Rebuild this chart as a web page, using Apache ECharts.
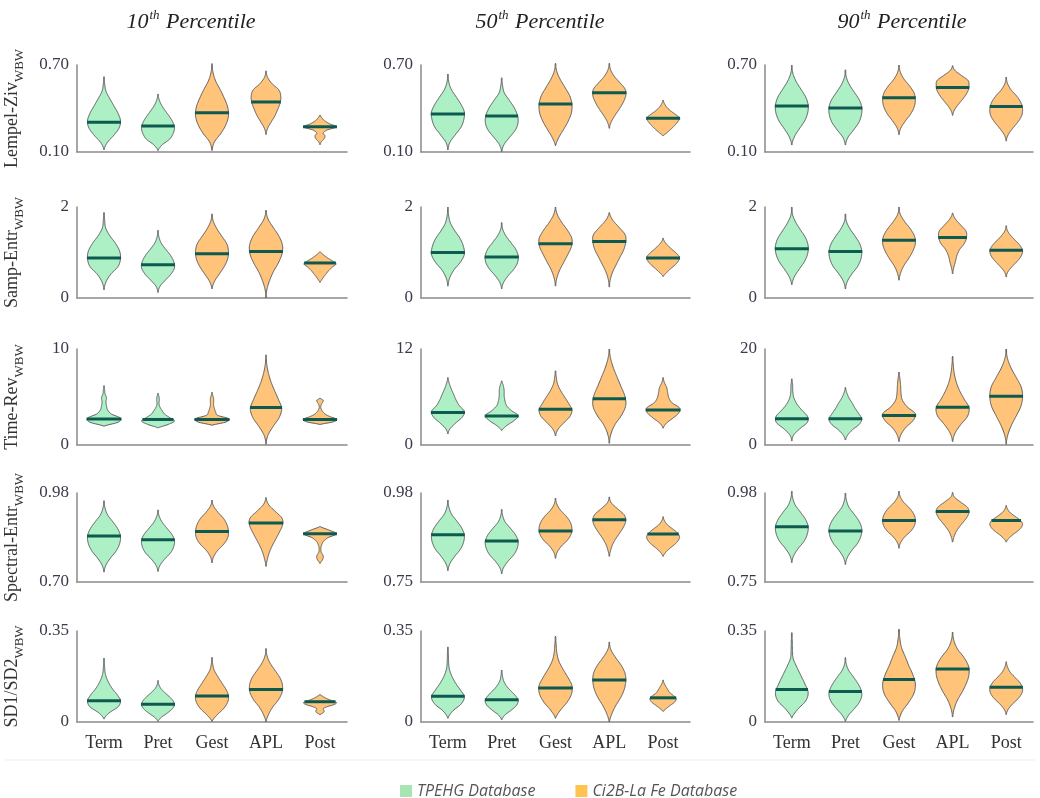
<!DOCTYPE html>
<html><head><meta charset="utf-8">
<script src="https://cdn.jsdelivr.net/npm/echarts@6/dist/echarts.min.js"></script>
<style>html,body{margin:0;padding:0;background:#fff}#c{width:1040px;height:798px}</style>
</head><body><div id="c"></div>
<script>
const categories = ['Term', 'Pret', 'Gest', 'APL', 'Post'];
const metrics = ['Lempel-Ziv', 'Samp-Entr', 'Time-Rev', 'Spectral-Entr', 'SD1/SD2'];
const percentiles = ['10', '50', '90'];
const legendNames = ['TPEHG Database', 'Ci2B-La Fe Database'];
const yMin = [[0.10, 0.10, 0.10], [0, 0, 0], [0, 0, 0], [0.70, 0.75, 0.75], [0, 0, 0]];
const yMax = [[0.70, 0.70, 0.70], [2, 2, 2], [10, 12, 20], [0.98, 0.98, 0.98], [0.35, 0.35, 0.35]];

// each violin: [low tip, high tip, median, relative density sampled evenly between the tips]
const lempelZiv10 = [
  [0.115, 0.62, 0.305, [0.2, 0.6, 0.92, 1.0, 0.85, 0.6, 0.35, 0.12, 0.04]],
  [0.11, 0.50, 0.28, [0.25, 0.7, 0.92, 1.0, 0.9, 0.7, 0.45, 0.22, 0.07]],
  [0.11, 0.71, 0.37, [0.15, 0.55, 0.85, 1.0, 0.95, 0.75, 0.5, 0.22, 0.06]],
  [0.22, 0.66, 0.445, [0.1, 0.32, 0.55, 0.72, 0.86, 0.9, 0.78, 0.36, 0.09]],
  [0.15, 0.355, 0.275, [0.08, 0.25, 0.3, 0.2, 0.45, 1.0, 0.6, 0.3, 0.12]]
];
const lempelZiv50 = [
  [0.114, 0.638, 0.362, [0.12, 0.45, 0.8, 0.97, 1.0, 0.8, 0.5, 0.2, 0.05]],
  [0.102, 0.612, 0.348, [0.15, 0.5, 0.85, 1.0, 0.95, 0.75, 0.45, 0.15, 0.05]],
  [0.143, 0.712, 0.431, [0.2, 0.5, 0.78, 0.97, 1.0, 0.88, 0.6, 0.3, 0.08]],
  [0.263, 0.712, 0.509, [0.12, 0.35, 0.62, 0.85, 1.0, 0.97, 0.65, 0.3, 0.08]],
  [0.21, 0.459, 0.332, [0.25, 0.5, 0.72, 0.9, 1.0, 0.75, 0.45, 0.22, 0.08]]
];
const lempelZiv90 = [
  [0.148, 0.70, 0.418, [0.15, 0.45, 0.78, 0.97, 1.0, 0.85, 0.55, 0.25, 0.06]],
  [0.148, 0.667, 0.403, [0.15, 0.5, 0.82, 0.98, 1.0, 0.85, 0.55, 0.25, 0.06]],
  [0.219, 0.70, 0.475, [0.12, 0.4, 0.72, 0.93, 1.0, 0.92, 0.65, 0.3, 0.08]],
  [0.352, 0.696, 0.544, [0.1, 0.3, 0.55, 0.78, 0.95, 1.0, 0.95, 0.55, 0.15]],
  [0.175, 0.617, 0.413, [0.12, 0.4, 0.72, 0.95, 1.0, 0.9, 0.65, 0.3, 0.08]]
];
const sampEntr10 = [
  [0.18, 1.88, 0.88, [0.12, 0.4, 0.85, 1.0, 0.95, 0.7, 0.35, 0.1, 0.04]],
  [0.12, 1.49, 0.73, [0.12, 0.45, 0.8, 1.0, 0.95, 0.75, 0.45, 0.18, 0.05]],
  [0.20, 1.85, 0.97, [0.15, 0.45, 0.75, 0.95, 1.0, 0.9, 0.6, 0.3, 0.08]],
  [0.0, 1.93, 1.02, [0.06, 0.22, 0.45, 0.75, 0.97, 1.0, 0.8, 0.45, 0.12]],
  [0.34, 1.02, 0.77, [0.12, 0.25, 0.4, 0.55, 0.75, 0.97, 0.75, 0.45, 0.2]]
];
const sampEntr50 = [
  [0.26, 2.0, 1.0, [0.1, 0.35, 0.75, 1.0, 0.95, 0.75, 0.42, 0.15, 0.04]],
  [0.20, 1.66, 0.90, [0.12, 0.4, 0.75, 0.97, 1.0, 0.85, 0.55, 0.25, 0.06]],
  [0.26, 2.0, 1.19, [0.08, 0.25, 0.5, 0.75, 0.97, 1.0, 0.75, 0.4, 0.12]],
  [0.24, 1.88, 1.24, [0.06, 0.2, 0.42, 0.65, 0.88, 1.0, 0.97, 0.6, 0.2]],
  [0.47, 1.32, 0.88, [0.2, 0.45, 0.72, 0.92, 1.0, 0.82, 0.55, 0.3, 0.1]]
];
const sampEntr90 = [
  [0.29, 2.0, 1.08, [0.15, 0.45, 0.78, 0.97, 1.0, 0.85, 0.55, 0.25, 0.05]],
  [0.20, 1.85, 1.02, [0.12, 0.4, 0.75, 0.95, 1.0, 0.88, 0.6, 0.28, 0.06]],
  [0.39, 2.0, 1.27, [0.1, 0.3, 0.6, 0.85, 1.0, 0.95, 0.7, 0.35, 0.08]],
  [0.53, 1.87, 1.33, [0.07, 0.17, 0.26, 0.43, 0.72, 0.85, 0.82, 0.5, 0.17]],
  [0.46, 1.59, 1.05, [0.1, 0.35, 0.65, 0.9, 1.0, 0.88, 0.6, 0.3, 0.08]]
];
const timeRev10 = [
  [1.95, 6.2, 2.72, [0.85, 1.0, 0.45, 0.22, 0.15, 0.12, 0.15, 0.06, 0.04]],
  [1.77, 5.4, 2.66, [0.6, 1.0, 0.7, 0.4, 0.25, 0.12, 0.06, 0.08, 0.06]],
  [2.05, 5.5, 2.66, [0.85, 1.0, 0.35, 0.22, 0.15, 0.1, 0.1, 0.1, 0.05]],
  [0.06, 9.4, 3.9, [0.11, 0.43, 0.8, 0.95, 0.76, 0.52, 0.3, 0.14, 0.04]],
  [2.13, 4.9, 2.66, [0.8, 1.0, 0.6, 0.3, 0.15, 0.06, 0.05, 0.12, 0.2]]
];
const timeRev50 = [
  [1.38, 8.44, 4.05, [0.15, 0.5, 0.88, 1.0, 0.7, 0.5, 0.35, 0.2, 0.08]],
  [1.8, 8.03, 3.64, [0.3, 0.75, 1.0, 0.6, 0.3, 0.2, 0.15, 0.15, 0.1]],
  [1.13, 9.28, 4.48, [0.15, 0.5, 0.88, 1.0, 0.8, 0.55, 0.3, 0.12, 0.05]],
  [0.2, 12.0, 5.77, [0.1, 0.35, 0.75, 1.0, 0.95, 0.72, 0.48, 0.25, 0.08]],
  [2.09, 8.44, 4.39, [0.2, 0.6, 0.95, 1.0, 0.55, 0.35, 0.28, 0.22, 0.08]]
];
const timeRev90 = [
  [0.82, 13.8, 5.48, [0.12, 0.5, 0.95, 0.95, 0.6, 0.3, 0.12, 0.06, 0.05]],
  [1.03, 12.0, 5.48, [0.15, 0.45, 0.85, 1.0, 0.82, 0.6, 0.42, 0.22, 0.08]],
  [0.7, 15.2, 6.16, [0.12, 0.4, 0.85, 1.0, 0.5, 0.2, 0.12, 0.1, 0.06]],
  [0.7, 18.5, 7.88, [0.15, 0.5, 0.92, 1.0, 0.7, 0.42, 0.22, 0.1, 0.04]],
  [0.14, 20.0, 10.14, [0.1, 0.32, 0.62, 0.9, 1.0, 0.92, 0.62, 0.3, 0.08]]
];
const spectralEntr10 = [
  [0.731, 0.956, 0.845, [0.12, 0.4, 0.75, 0.95, 1.0, 0.85, 0.55, 0.22, 0.06]],
  [0.733, 0.927, 0.833, [0.12, 0.4, 0.75, 0.95, 1.0, 0.85, 0.55, 0.25, 0.07]],
  [0.76, 0.958, 0.859, [0.1, 0.35, 0.72, 0.95, 1.0, 0.92, 0.72, 0.38, 0.1]],
  [0.749, 0.966, 0.886, [0.08, 0.2, 0.38, 0.6, 0.82, 1.0, 0.97, 0.55, 0.15]],
  [0.758, 0.875, 0.852, [0.15, 0.2, 0.08, 0.05, 0.1, 0.22, 0.5, 1.0, 0.55]]
];
const spectralEntr50 = [
  [0.779, 0.962, 0.872, [0.12, 0.4, 0.75, 0.95, 1.0, 0.85, 0.55, 0.22, 0.06]],
  [0.771, 0.938, 0.856, [0.12, 0.4, 0.75, 0.95, 1.0, 0.85, 0.55, 0.22, 0.06]],
  [0.811, 0.967, 0.882, [0.1, 0.35, 0.72, 0.95, 1.0, 0.9, 0.65, 0.3, 0.08]],
  [0.816, 0.97, 0.911, [0.08, 0.2, 0.4, 0.65, 0.88, 1.0, 0.9, 0.5, 0.12]],
  [0.816, 0.919, 0.874, [0.15, 0.4, 0.7, 0.92, 1.0, 0.85, 0.55, 0.25, 0.08]]
];
const spectralEntr90 = [
  [0.80, 0.985, 0.893, [0.12, 0.4, 0.75, 0.95, 1.0, 0.85, 0.55, 0.22, 0.06]],
  [0.795, 0.98, 0.882, [0.12, 0.4, 0.75, 0.95, 1.0, 0.85, 0.55, 0.22, 0.06]],
  [0.837, 0.985, 0.909, [0.1, 0.35, 0.72, 0.95, 1.0, 0.9, 0.65, 0.3, 0.08]],
  [0.853, 0.982, 0.932, [0.08, 0.2, 0.4, 0.65, 0.88, 1.0, 0.9, 0.5, 0.12]],
  [0.853, 0.948, 0.909, [0.15, 0.4, 0.7, 0.92, 1.0, 0.85, 0.55, 0.25, 0.08]]
];
const sd1sd2_10 = [
  [0.011, 0.246, 0.082, [0.3, 0.85, 1.0, 0.8, 0.5, 0.28, 0.12, 0.05, 0.03]],
  [0.002, 0.16, 0.068, [0.2, 0.55, 0.85, 1.0, 0.92, 0.7, 0.42, 0.18, 0.05]],
  [0.002, 0.249, 0.10, [0.3, 0.7, 0.95, 1.0, 0.85, 0.6, 0.35, 0.13, 0.04]],
  [0.0, 0.283, 0.125, [0.15, 0.4, 0.75, 0.97, 1.0, 0.85, 0.55, 0.25, 0.06]],
  [0.028, 0.106, 0.078, [0.2, 0.25, 0.2, 0.45, 0.85, 1.0, 0.7, 0.4, 0.18]]
];
const sd1sd2_50 = [
  [0.014, 0.289, 0.099, [0.28, 0.8, 1.0, 0.75, 0.45, 0.22, 0.08, 0.04, 0.03]],
  [0.008, 0.20, 0.086, [0.2, 0.6, 0.92, 1.0, 0.8, 0.5, 0.25, 0.1, 0.04]],
  [0.014, 0.33, 0.131, [0.3, 0.72, 0.98, 1.0, 0.75, 0.45, 0.2, 0.08, 0.04]],
  [0.0, 0.308, 0.162, [0.15, 0.38, 0.68, 0.9, 1.0, 0.97, 0.75, 0.4, 0.1]],
  [0.04, 0.162, 0.093, [0.2, 0.45, 0.7, 0.8, 0.65, 0.4, 0.28, 0.16, 0.06]]
];
const sd1sd2_90 = [
  [0.015, 0.344, 0.125, [0.35, 0.85, 1.0, 0.8, 0.55, 0.3, 0.08, 0.04, 0.03]],
  [0.002, 0.248, 0.117, [0.2, 0.55, 0.85, 1.0, 0.95, 0.75, 0.48, 0.2, 0.05]],
  [0.006, 0.357, 0.163, [0.2, 0.6, 0.92, 1.0, 0.85, 0.6, 0.38, 0.15, 0.05]],
  [0.019, 0.346, 0.204, [0.1, 0.3, 0.6, 0.85, 1.0, 0.97, 0.7, 0.3, 0.08]],
  [0.028, 0.232, 0.134, [0.12, 0.38, 0.72, 0.95, 1.0, 0.85, 0.55, 0.25, 0.08]]
];

const panels = [
  [lempelZiv10, lempelZiv50, lempelZiv90],
  [sampEntr10, sampEntr50, sampEntr90],
  [timeRev10, timeRev50, timeRev90],
  [spectralEntr10, spectralEntr50, spectralEntr90],
  [sd1sd2_10, sd1sd2_50, sd1sd2_90]
];

// ---- styling / layout ----
const GREEN = '#aef0c6', ORANGE = '#ffc37a';
const LEG_GREEN = '#a8e4b4', LEG_ORANGE = '#ffc44f';
const colLeft = [77, 421, 765], colWidth = [270, 269, 268];
const rowTop = [65, 207, 349, 493, 631], rowHeight = [87, 91, 96, 89, 91];
const titleX = [191, 540, 902];
const serif = 'Liberation Serif';
const axisColor = '#8a8a8a';

function makeRender(panel) {
  return function (params, api) {
    const i = params.dataIndex;
    const d = panel[i];
    const lo = d[0], hi = d[1], med = d[2], prof = d[3];
    const band = api.size([1, 0])[0];
    const maxHW = band * 0.305;
    const n = prof.length;
    const ys = [], ws = [];
    const cx = api.coord([i, lo])[0];
    for (let k = 0; k <= n + 1; k++) {
      const v = lo + (hi - lo) * k / (n + 1);
      ys.push(api.coord([i, v])[1]);
      ws.push(k === 0 || k === n + 1 ? 0 : prof[k - 1] * maxHW);
    }
    const py = [], pw = [];
    const N = 10;
    for (let k = 0; k < ys.length - 1; k++) {
      const w0 = ws[Math.max(k - 1, 0)], w1 = ws[k], w2 = ws[k + 1], w3 = ws[Math.min(k + 2, ws.length - 1)];
      for (let s = 0; s < N; s++) {
        const t = s / N, t2 = t * t, t3 = t2 * t;
        const w = 0.5 * ((2 * w1) + (-w0 + w2) * t + (2 * w0 - 5 * w1 + 4 * w2 - w3) * t2 + (-w0 + 3 * w1 - 3 * w2 + w3) * t3);
        py.push(ys[k] + (ys[k + 1] - ys[k]) * t);
        pw.push(Math.max(w, 0.35));
      }
    }
    py.push(ys[ys.length - 1]); pw.push(0);
    pw[0] = 0;
    const pts = [];
    for (let j = 0; j < py.length; j++) pts.push([cx + pw[j], py[j]]);
    for (let j = py.length - 1; j >= 0; j--) pts.push([cx - pw[j], py[j]]);
    const my = api.coord([i, med])[1];
    let mw = 0;
    for (let j = 0; j < py.length - 1; j++) {
      if ((py[j] - my) * (py[j + 1] - my) <= 0) {
        const t = py[j] === py[j + 1] ? 0 : (my - py[j]) / (py[j + 1] - py[j]);
        mw = pw[j] + (pw[j + 1] - pw[j]) * t;
        break;
      }
    }
    return {
      type: 'group',
      children: [
        { type: 'polygon', shape: { points: pts }, style: { fill: i < 2 ? GREEN : ORANGE, stroke: '#5c5c5c', lineWidth: 1 } },
        { type: 'line', shape: { x1: cx - mw - 0.5, y1: my, x2: cx + mw + 0.5, y2: my }, style: { stroke: '#0c5a50', lineWidth: 3 } }
      ]
    };
  };
}

function fmt(v) {
  if (v === 0) return '0';
  if (Number.isInteger(v)) return String(v);
  return v.toFixed(2);
}

const grid = [], xAxis = [], yAxis = [], series = [];
for (let r = 0; r < 5; r++) {
  for (let c = 0; c < 3; c++) {
    const idx = r * 3 + c;
    const mn = yMin[r][c], mx = yMax[r][c];
    grid.push({ left: colLeft[c], width: colWidth[c], top: rowTop[r], height: rowHeight[r] });
    xAxis.push({
      type: 'category', gridIndex: idx, data: categories, boundaryGap: true,
      axisLine: { lineStyle: { color: axisColor, width: 1.5 } },
      axisTick: { show: false },
      axisLabel: { show: r === 4, fontFamily: serif, fontSize: 18, color: '#333', margin: 12 }
    });
    yAxis.push({
      type: 'value', gridIndex: idx, min: mn, max: mx,
      splitLine: { show: false },
      axisLine: { show: true, lineStyle: { color: axisColor, width: 1.5 } },
      axisTick: { show: false },
      axisLabel: { customValues: [mn, mx], formatter: fmt, fontFamily: serif, fontSize: 17, color: '#3a3a4c', margin: 8 },
      name: c === 0 ? '{n|' + metrics[r] + '}{s|WBW}' : '',
      nameLocation: 'middle', nameRotate: 90, nameGap: 50,
      nameTextStyle: {
        rich: {
          n: { fontFamily: serif, fontSize: 18, color: '#333', lineHeight: 30 },
          s: { fontFamily: serif, fontSize: 13, color: '#333', padding: [16, 0, 0, 0] }
        }
      }
    });
    series.push({
      type: 'custom', name: 'v' + idx, xAxisIndex: idx, yAxisIndex: idx, silent: true, clip: false,
      data: panels[r][c].map((d, i) => [i, d[0], d[1], d[2]]),
      encode: { x: 0, y: [1, 2, 3] },
      renderItem: makeRender(panels[r][c])
    });
  }
}
series.push({ type: 'custom', name: legendNames[0], xAxisIndex: 0, yAxisIndex: 0, data: [], renderItem: () => null, itemStyle: { color: LEG_GREEN } });
series.push({ type: 'custom', name: legendNames[1], xAxisIndex: 0, yAxisIndex: 0, data: [], renderItem: () => null, itemStyle: { color: LEG_ORANGE } });

const graphic = percentiles.map((p, c) => ({
  type: 'text', x: titleX[c], y: 22,
  style: {
    text: '{n|' + p + '}{s|th}{n| Percentile}',
    align: 'center', verticalAlign: 'middle',
    rich: {
      n: { fontFamily: serif, fontStyle: 'italic', fontSize: 22, fill: '#222', lineHeight: 28 },
      s: { fontFamily: serif, fontStyle: 'italic', fontSize: 13, fill: '#222', padding: [0, 1, 12, 1] }
    }
  }
}));
graphic.push({ type: 'line', shape: { x1: 5, y1: 760, x2: 1035, y2: 760 }, style: { stroke: '#ececec', lineWidth: 1 } });

const chart = echarts.init(document.getElementById('c'), null, { renderer: 'canvas' });
chart.setOption({
  animation: false,
  backgroundColor: '#fff',
  grid, xAxis, yAxis, series, graphic,
  legend: {
    data: legendNames, left: 395, top: 778, itemWidth: 12, itemHeight: 12, itemGap: 40, icon: 'rect',
    textStyle: { fontFamily: 'Open Sans', fontStyle: 'italic', fontSize: 16, color: '#555' }
  }
});
</script></body></html>
